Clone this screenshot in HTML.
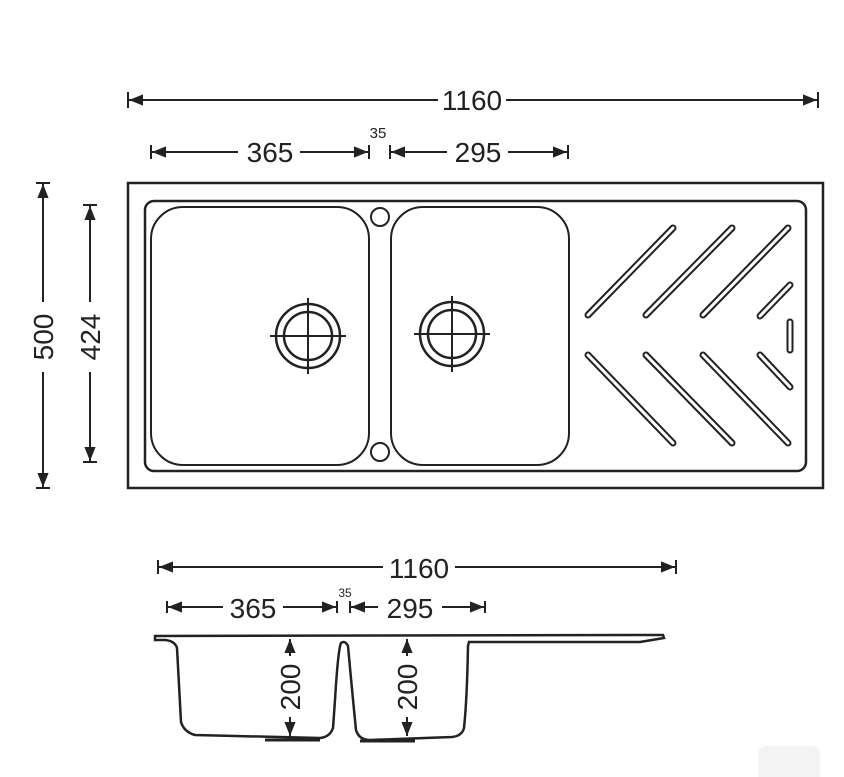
<!DOCTYPE html>
<html><head><style>
html,body{margin:0;padding:0;background:#fff;}
svg{display:block}
text{font-family:"Liberation Sans",Arial,sans-serif;fill:#222}
</style></head><body>
<svg width="844" height="777" viewBox="0 0 844 777" xmlns="http://www.w3.org/2000/svg">
<defs>
<marker id="a" viewBox="0 0 10 10" refX="10" refY="5" markerWidth="7" markerHeight="7" orient="auto-start-reverse"><path d="M0,1 L10,5 L0,9z" fill="#222"/></marker>
</defs>
<g stroke="#222" stroke-width="2" fill="none">
<line x1="129" y1="100" x2="438" y2="100" marker-start="url(#a)"/>
<line x1="506" y1="100" x2="817" y2="100" marker-end="url(#a)"/>
<line x1="128" y1="92" x2="128" y2="108"/><line x1="818" y1="92" x2="818" y2="108"/>
<line x1="152" y1="152" x2="238" y2="152" marker-start="url(#a)"/>
<line x1="300" y1="152" x2="368" y2="152" marker-end="url(#a)"/>
<line x1="151" y1="145" x2="151" y2="159"/><line x1="369" y1="145" x2="369" y2="159"/>
<line x1="391" y1="152" x2="447" y2="152" marker-start="url(#a)"/>
<line x1="508" y1="152" x2="567" y2="152" marker-end="url(#a)"/>
<line x1="390" y1="145" x2="390" y2="159"/><line x1="568" y1="145" x2="568" y2="159"/>
<line x1="43" y1="184" x2="43" y2="302" marker-start="url(#a)"/>
<line x1="43" y1="372" x2="43" y2="487" marker-end="url(#a)"/>
<line x1="36" y1="183" x2="50" y2="183"/><line x1="36" y1="488" x2="50" y2="488"/>
<line x1="90" y1="206" x2="90" y2="302" marker-start="url(#a)"/>
<line x1="90" y1="372" x2="90" y2="461" marker-end="url(#a)"/>
<line x1="83" y1="205" x2="97" y2="205"/><line x1="83" y1="462" x2="97" y2="462"/>
<rect x="128" y="183" width="695" height="305" stroke-width="2.5"/>
<rect x="145" y="201" width="661" height="270" rx="9" stroke-width="2.5"/>
<rect x="151" y="207" width="218" height="258" rx="32" stroke-width="2"/>
<rect x="391" y="207" width="178" height="258" rx="32" stroke-width="2"/>
<circle cx="380" cy="217" r="9"/><circle cx="380" cy="452" r="9"/>
<circle cx="308" cy="336" r="32" stroke-width="2.5"/><circle cx="308" cy="336" r="24" stroke-width="2.5"/>
<line x1="270" y1="336" x2="346" y2="336"/><line x1="308" y1="298" x2="308" y2="374"/>
<circle cx="452" cy="334" r="32" stroke-width="2.5"/><circle cx="452" cy="334" r="24" stroke-width="2.5"/>
<line x1="414" y1="334" x2="490" y2="334"/><line x1="452" y1="296" x2="452" y2="372"/>
</g>
<g stroke-linecap="round">
<g stroke="#222" stroke-width="7">
<line x1="588" y1="315" x2="673" y2="228"/><line x1="646" y1="315" x2="732" y2="228"/><line x1="703" y1="315" x2="788" y2="228"/><line x1="760" y1="316" x2="790" y2="285"/>
<line x1="588" y1="355" x2="673" y2="443"/><line x1="646" y1="355" x2="732" y2="443"/><line x1="703" y1="355" x2="788" y2="443"/><line x1="760" y1="355" x2="790" y2="387"/>
<line x1="790" y1="322" x2="790" y2="350"/>
</g>
<g stroke="#fff" stroke-width="3">
<line x1="588" y1="315" x2="673" y2="228"/><line x1="646" y1="315" x2="732" y2="228"/><line x1="703" y1="315" x2="788" y2="228"/><line x1="760" y1="316" x2="790" y2="285"/>
<line x1="588" y1="355" x2="673" y2="443"/><line x1="646" y1="355" x2="732" y2="443"/><line x1="703" y1="355" x2="788" y2="443"/><line x1="760" y1="355" x2="790" y2="387"/>
<line x1="790" y1="322" x2="790" y2="350"/>
</g>
</g>
<g stroke="#222" stroke-width="2" fill="none">
<line x1="159" y1="567" x2="383" y2="567" marker-start="url(#a)"/>
<line x1="455" y1="567" x2="675" y2="567" marker-end="url(#a)"/>
<line x1="158" y1="560" x2="158" y2="574"/><line x1="676" y1="560" x2="676" y2="574"/>
<line x1="168" y1="607" x2="223" y2="607" marker-start="url(#a)"/>
<line x1="283" y1="607" x2="336" y2="607" marker-end="url(#a)"/>
<line x1="167" y1="601" x2="167" y2="613"/><line x1="337" y1="601" x2="337" y2="613"/>
<line x1="351" y1="607" x2="378" y2="607" marker-start="url(#a)"/>
<line x1="442" y1="607" x2="484" y2="607" marker-end="url(#a)"/>
<line x1="350" y1="601" x2="350" y2="613"/><line x1="485" y1="601" x2="485" y2="613"/>
<path d="M155,636 L663,635 L664,638 L640,642 L469,642 L468,646 Q467,700 464,728 Q462,736 452,737 L370,740 Q359,740 356,730 Q352,690 348,646 Q345,640 341,643 Q338,650 335,700 L333,728 Q330,737 320,738 L195,735 Q184,732 181,722 L177,648 Q175,641 165,640 L155,640 Z" stroke-width="2.5"/>
<line x1="265" y1="740" x2="320" y2="740" stroke-width="3"/>
<line x1="360" y1="741" x2="415" y2="741" stroke-width="3"/>
<line x1="290" y1="639" x2="290" y2="656" marker-start="url(#a)"/>
<line x1="290" y1="717" x2="290" y2="736" marker-end="url(#a)"/>
<line x1="407" y1="639" x2="407" y2="656" marker-start="url(#a)"/>
<line x1="407" y1="717" x2="407" y2="736" marker-end="url(#a)"/>
</g>
<rect x="758" y="746" width="62" height="40" rx="8" fill="#f3f3f3"/>
<g font-size="28" text-anchor="middle">
<text x="472" y="110">1160</text>
<text x="270" y="162">365</text>
<text x="478" y="162">295</text>
<text x="419" y="578">1160</text>
<text x="253" y="618">365</text>
<text x="410" y="618">295</text>
<text transform="translate(53,337) rotate(-90)">500</text>
<text transform="translate(100,337) rotate(-90)">424</text>
<text transform="translate(300,687) rotate(-90)">200</text>
<text transform="translate(417,687) rotate(-90)">200</text>
</g>
<text x="378" y="138" font-size="15" text-anchor="middle">35</text>
<text x="345" y="597" font-size="12" text-anchor="middle">35</text>
</svg>
</body></html>
